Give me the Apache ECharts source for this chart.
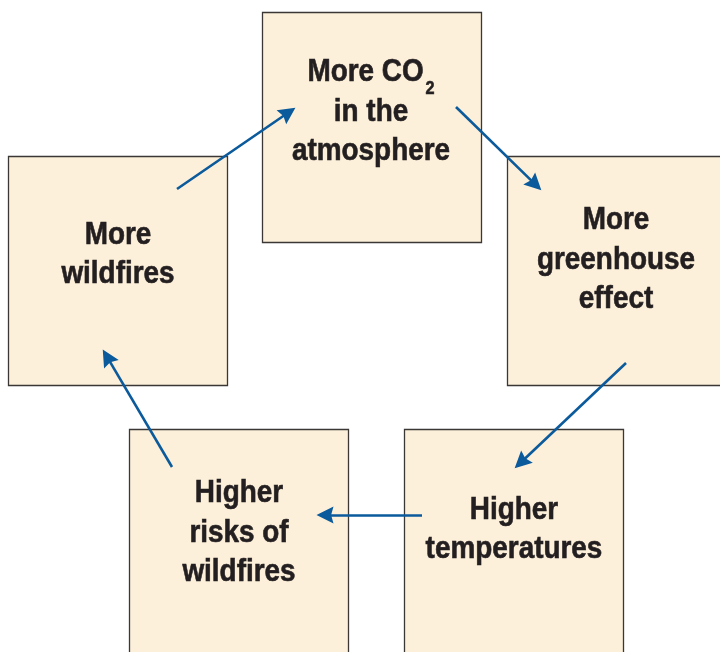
<!DOCTYPE html>
<html>
<head>
<meta charset="utf-8">
<script src="https://cdn.jsdelivr.net/npm/echarts@6/dist/echarts.min.js"></script>
<style>
  html, body { margin: 0; padding: 0; background: #fff; }
  #chart { width: 720px; height: 652px; }
</style>
</head>
<body>
<div id="chart"></div>
<script>
// steps of the feedback loop, in order
const steps = [
  "More CO{sub|2}\nin the\natmosphere",
  "More\ngreenhouse\neffect",
  "Higher\ntemperatures",
  "Higher\nrisks of\nwildfires",
  "More\nwildfires",
];
// each link goes from one step to the next
const links = [[0, 1], [1, 2], [2, 3], [3, 4], [4, 0]];

// layout (pixels): box x, y, w, h and label centre
const boxes = [
  [262, 12, 219, 230],
  [507, 156, 222, 229],
  [404, 429, 219, 240],
  [129, 429, 219, 240],
  [8, 156, 219, 229],
];
const labelCentres = [[371, 112], [616, 260], [514, 530], [239, 533], [118, 255]];
// arrow start / tip for each link
const arrowEnds = [
  [[456, 107], [541, 190]],
  [[626, 363], [515, 468]],
  [[422, 515], [317, 515]],
  [[172, 467], [103, 350]],
  [[177, 189], [295, 108]],
];

const FONT = "'Liberation Sans', Arial, sans-serif";
const chart = echarts.init(document.getElementById("chart"));

function pullBack(a, b, d) {
  const dx = b[0] - a[0], dy = b[1] - a[1];
  const len = Math.sqrt(dx * dx + dy * dy);
  return [b[0] - (dx / len) * d, b[1] - (dy / len) * d];
}

chart.setOption({
  animation: false,
  grid: { left: 0, right: 0, top: 0, bottom: 0 },
  xAxis: { type: "value", min: 0, max: 720, show: false },
  yAxis: { type: "value", min: 0, max: 652, inverse: true, show: false },
  series: [
    {
      type: "custom",
      coordinateSystem: "cartesian2d",
      data: steps.map((s, i) => [i]),
      renderItem: (params, api) => {
        const i = params.dataIndex;
        const b = boxes[i];
        const p0 = api.coord([b[0], b[1]]);
        const p1 = api.coord([b[0] + b[2], b[1] + b[3]]);
        const c = api.coord(labelCentres[i]);
        return {
          type: "group",
          children: [
            {
              type: "rect",
              shape: { x: p0[0] + 0.5, y: p0[1] + 0.5, width: p1[0] - p0[0], height: p1[1] - p0[1] },
              style: { fill: "#fdf0da", stroke: "#3b3735", lineWidth: 1.3 },
            },
            {
              type: "text",
              x: c[0],
              y: c[1],
              scaleX: 0.9,
              style: {
                text: steps[i],
                fill: "#231f20",
                stroke: "#231f20",
                lineWidth: 0.6,
                fontFamily: FONT,
                fontWeight: "bold",
                fontSize: 31,
                lineHeight: 39.5,
                align: "center",
                verticalAlign: "middle",
                rich: {
                  sub: {
                    fontFamily: FONT,
                    fontWeight: "bold",
                    fontSize: 18,
                    height: 6,
                    verticalAlign: "bottom",
                    padding: [0, 0, 0, 2],
                  },
                },
              },
            },
          ],
        };
      },
    },
    {
      type: "lines",
      coordinateSystem: "cartesian2d",
      polyline: false,
      symbol: ["none", "path://M5,0 L10,10 L5,8.6 L0,10 Z"],
      symbolSize: [16, 17],
      lineStyle: { color: "#0b5a9c", width: 2.6, opacity: 1, curveness: 0 },
      data: links.map((l, i) => {
        const [a, b] = arrowEnds[i];
        return { name: steps[l[0]] + " -> " + steps[l[1]], coords: [a, pullBack(a, b, 8)] };
      }),
    },
  ],
});
</script>
</body>
</html>
